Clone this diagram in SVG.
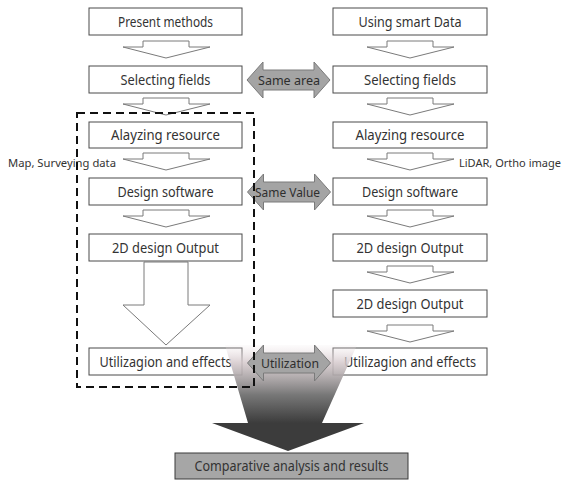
<svg xmlns="http://www.w3.org/2000/svg" width="569" height="480" viewBox="0 0 569 480">
<style>
.box{fill:#ffffff;stroke:#4a4a4a;stroke-width:1}
.bt{font-family:"Noto Sans","Open Sans",sans-serif;font-size:14px;fill:#333333;text-anchor:middle}
.side{font-family:"Noto Sans","Open Sans",sans-serif;font-size:11.5px;fill:#333333}
.sa{fill:#ffffff;stroke:#7a7a7a;stroke-width:1}
.da{fill:#a4a4a4;stroke:#7a7a7a;stroke-width:1}
.dt{font-family:"Noto Sans","Open Sans",sans-serif;font-size:13px;fill:#2e2e2e;text-anchor:middle}
</style>
<defs>
<path id="small" d="M-23,0 H23 V6 H44 L0,17 L-43,6 H-23 Z"/>
<path id="dbl" d="M-41.5,0 L-25.5,-18 V-10 H25.5 V-18 L41.5,0 L25.5,18 V10 H-25.5 V18 Z"/>
<linearGradient id="g" gradientUnits="userSpaceOnUse" x1="0" y1="342" x2="0" y2="423">
<stop offset="0" stop-color="#efe6e8" stop-opacity="0"/>
<stop offset="0.25" stop-color="#d6cacd" stop-opacity="0.85"/>
<stop offset="0.65" stop-color="#787878"/>
<stop offset="1" stop-color="#3c3c3c"/>
</linearGradient>
</defs>

<g id="left-column">
<g id="n-present"><rect class="box" x="89" y="8" width="153" height="27"/><text class="bt" x="165.5" y="26.5" textLength="95" lengthAdjust="spacingAndGlyphs">Present methods</text></g>
<g id="n-sel-l"><rect class="box" x="89" y="66" width="153" height="27"/><text class="bt" x="165.5" y="84.5" textLength="90" lengthAdjust="spacingAndGlyphs">Selecting fields</text></g>
<g id="n-ana-l"><rect class="box" x="89" y="122" width="153" height="26"/><text class="bt" x="165.5" y="140" textLength="109" lengthAdjust="spacingAndGlyphs">Alayzing resource</text></g>
<g id="n-des-l"><rect class="box" x="89" y="178" width="153" height="27"/><text class="bt" x="165.5" y="196.5" textLength="96" lengthAdjust="spacingAndGlyphs">Design software</text></g>
<g id="n-2d-l"><rect class="box" x="89" y="234" width="153" height="27"/><text class="bt" x="165.5" y="252.5" textLength="107" lengthAdjust="spacingAndGlyphs">2D design Output</text></g>
<g id="n-util-l"><rect class="box" x="89" y="348" width="153" height="27"/><text class="bt" x="165.5" y="366.5" textLength="132" lengthAdjust="spacingAndGlyphs">Utilizagion and effects</text></g>
</g>

<g id="right-column">
<g id="n-smart"><rect class="box" x="333" y="8" width="154" height="27"/><text class="bt" x="410" y="26.5" textLength="103" lengthAdjust="spacingAndGlyphs">Using smart Data</text></g>
<g id="n-sel-r"><rect class="box" x="333" y="66" width="154" height="27"/><text class="bt" x="410" y="84.5" textLength="92" lengthAdjust="spacingAndGlyphs">Selecting fields</text></g>
<g id="n-ana-r"><rect class="box" x="333" y="122" width="154" height="26"/><text class="bt" x="410" y="140" textLength="109" lengthAdjust="spacingAndGlyphs">Alayzing resource</text></g>
<g id="n-des-r"><rect class="box" x="333" y="178" width="154" height="27"/><text class="bt" x="410" y="196.5" textLength="96" lengthAdjust="spacingAndGlyphs">Design software</text></g>
<g id="n-2d-r1"><rect class="box" x="333" y="234" width="154" height="27"/><text class="bt" x="410" y="252.5" textLength="107" lengthAdjust="spacingAndGlyphs">2D design Output</text></g>
<g id="n-2d-r2"><rect class="box" x="333" y="290" width="154" height="27"/><text class="bt" x="410" y="308.5" textLength="107" lengthAdjust="spacingAndGlyphs">2D design Output</text></g>
<g id="n-util-r"><rect class="box" x="333" y="348" width="154" height="27"/><text class="bt" x="410" y="366.5" textLength="132" lengthAdjust="spacingAndGlyphs">Utilizagion and effects</text></g>
</g>

<g id="connectors">
<use href="#small" class="sa" transform="translate(166,41)"/>
<use href="#small" class="sa" transform="translate(166,98)"/>
<use href="#small" class="sa" transform="translate(166,153)"/>
<use href="#small" class="sa" transform="translate(166,210)"/>
<path class="sa" d="M144,262 H188 V305 H210 L166,345 L123,305 H144 Z"/>
<use href="#small" class="sa" transform="translate(410,41)"/>
<use href="#small" class="sa" transform="translate(410,98)"/>
<use href="#small" class="sa" transform="translate(410,153)"/>
<use href="#small" class="sa" transform="translate(410,210)"/>
<use href="#small" class="sa" transform="translate(410,266)"/>
<use href="#small" class="sa" transform="translate(410,325)"/>
<g id="e-same-area"><use href="#dbl" class="da" transform="translate(288.5,80)"/><text class="dt" x="289" y="84.5" textLength="62" lengthAdjust="spacingAndGlyphs">Same area</text></g>
<g id="e-same-value"><use href="#dbl" class="da" transform="translate(289,192)"/><text class="dt" x="287.5" y="196.5" textLength="65" lengthAdjust="spacingAndGlyphs">Same Value</text></g>
<path id="e-big" d="M225,345 H357 L322,423 H364 L288,451 L212,423 H248 Z" fill="url(#g)"/>
<g id="e-utilization"><use href="#dbl" class="da" transform="translate(289,363)"/><text class="dt" x="290" y="367.5" textLength="58" lengthAdjust="spacingAndGlyphs">Utilization</text></g>
</g>

<g id="labels">
<text class="side" x="8" y="167" textLength="108" lengthAdjust="spacingAndGlyphs">Map, Surveying data</text>
<text class="side" x="459" y="167" textLength="102" lengthAdjust="spacingAndGlyphs">LiDAR, Ortho image</text>
</g>

<g id="group-present">
<rect x="77" y="113" width="177" height="274" fill="none" stroke="#111111" stroke-width="2" stroke-dasharray="8,5"/>
</g>

<g id="n-result"><rect x="175" y="453" width="233" height="26" fill="#a6a6a6" stroke="#3a3a3a" stroke-width="1"/><text class="bt" x="291.5" y="471" textLength="194" lengthAdjust="spacingAndGlyphs" fill="#222222">Comparative analysis and results</text></g>
</svg>
